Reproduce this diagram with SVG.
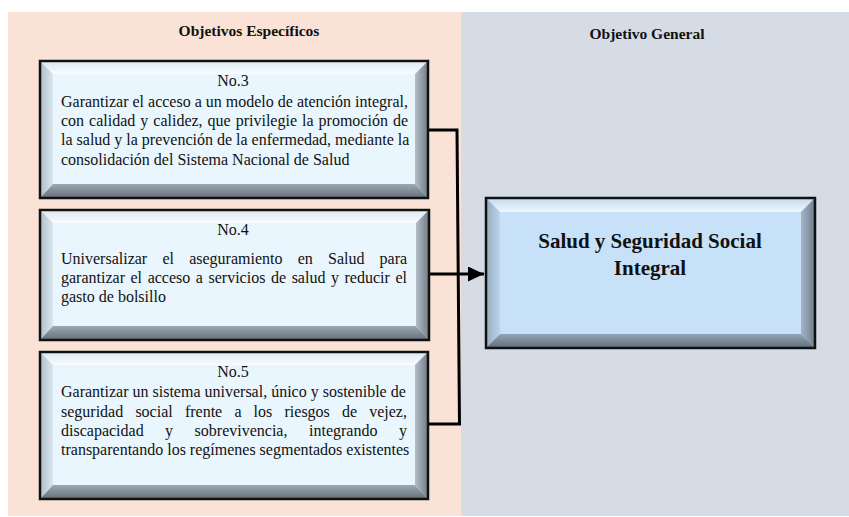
<svg xmlns="http://www.w3.org/2000/svg" width="849" height="517" viewBox="0 0 849 517">
<defs>
<style>
.hdr{font-family:"Liberation Serif","Times New Roman",serif;font-weight:bold;font-size:15.5px;fill:#111;text-anchor:middle}
.t{font-family:"Liberation Serif","Times New Roman",serif;font-size:16px;fill:#111}
.c{text-anchor:middle}
.big{font-family:"Liberation Serif","Times New Roman",serif;font-weight:bold;font-size:21px;fill:#111;text-anchor:middle}
.border{fill:none;stroke:#111;stroke-width:2.5}
.conn{fill:none;stroke:#000;stroke-width:3}
</style>
<linearGradient id="gTop" x1="0" y1="0" x2="0" y2="1"><stop offset="0" stop-color="#dde9f2"/><stop offset="1" stop-color="#f7fcff"/></linearGradient>
<linearGradient id="gLeft" x1="0" y1="0" x2="1" y2="0"><stop offset="0" stop-color="#aebdc9"/><stop offset="1" stop-color="#dbe8f1"/></linearGradient>
<linearGradient id="gRight" x1="0" y1="0" x2="1" y2="0"><stop offset="0" stop-color="#b4bec8"/><stop offset="1" stop-color="#717c87"/></linearGradient>
<linearGradient id="gBot" x1="0" y1="0" x2="0" y2="1"><stop offset="0" stop-color="#9ea8b2"/><stop offset="1" stop-color="#646f7a"/></linearGradient>
<linearGradient id="bTop" x1="0" y1="0" x2="0" y2="1"><stop offset="0" stop-color="#c4d9ea"/><stop offset="1" stop-color="#eef7ff"/></linearGradient>
<linearGradient id="bLeft" x1="0" y1="0" x2="1" y2="0"><stop offset="0" stop-color="#94abc0"/><stop offset="1" stop-color="#bcd4ea"/></linearGradient>
<linearGradient id="bRight" x1="0" y1="0" x2="1" y2="0"><stop offset="0" stop-color="#a4b6c6"/><stop offset="1" stop-color="#6d7d8c"/></linearGradient>
<linearGradient id="bBot" x1="0" y1="0" x2="0" y2="1"><stop offset="0" stop-color="#94a5b5"/><stop offset="1" stop-color="#5f6e7c"/></linearGradient>
<marker id="arr" markerUnits="userSpaceOnUse" markerWidth="16" markerHeight="15" refX="16" refY="7.5" orient="auto"><path d="M0,0 L16,7.5 L0,15 z" fill="#000"/></marker>
</defs>

<rect x="8" y="12" width="453" height="504" fill="#fae3d6"/>
<rect x="461" y="12" width="388" height="504" fill="#d5dce5"/>
<text class="hdr" x="249" y="36">Objetivos Específicos</text>
<text class="hdr" x="647" y="39">Objetivo General</text>

<g id="connectors">
<path class="conn" d="M429,130 H457 L459.5,424 H428"/>
<path class="conn" d="M430,274 H484" marker-end="url(#arr)"/>
</g>

<g id="node-no3">
<rect x="40" y="61" width="388" height="137" fill="#eaf6fd"/>
<polygon points="40,61 428,61 415,74 53,74" fill="url(#gTop)"/>
<polygon points="40,61 53,74 53,184 40,198" fill="url(#gLeft)"/>
<polygon points="428,61 428,198 415,184 415,74" fill="url(#gRight)"/>
<polygon points="40,198 53,184 415,184 428,198" fill="url(#gBot)"/>
<rect class="border" x="40" y="61" width="388" height="137"/>
<text class="t c" x="233" y="86">No.3</text>
<text class="t" x="61" y="106.7">Garantizar el acceso a un modelo de atención integral,</text>
<text class="t" x="61" y="126" word-spacing="1">con calidad y calidez, que privilegie la promoción de</text>
<text class="t" x="61" y="145.3">la salud y la prevención de la enfermedad, mediante la</text>
<text class="t" x="61" y="164.5">consolidación del Sistema Nacional de Salud</text>
</g>

<g id="node-no4">
<rect x="40" y="210" width="389" height="130" fill="#eaf6fd"/>
<polygon points="40,210 429,210 416,223 53,223" fill="url(#gTop)"/>
<polygon points="40,210 53,223 53,326 40,340" fill="url(#gLeft)"/>
<polygon points="429,210 429,340 416,326 416,223" fill="url(#gRight)"/>
<polygon points="40,340 53,326 416,326 429,340" fill="url(#gBot)"/>
<rect class="border" x="40" y="210" width="389" height="130"/>
<text class="t c" x="233" y="235">No.4</text>
<text class="t" y="263.5"><tspan x="61">Universalizar</tspan> <tspan x="162.4">el</tspan> <tspan x="189.2">aseguramiento</tspan> <tspan x="297.7">en</tspan> <tspan x="328">Salud</tspan> <tspan x="379.6">para</tspan></text>
<text class="t" x="61" y="282.5" word-spacing="1.57">garantizar el acceso a servicios de salud y reducir el</text>
<text class="t" x="61" y="301.5">gasto de bolsillo</text>
</g>

<g id="node-no5">
<rect x="40" y="352" width="388" height="147" fill="#eaf6fd"/>
<polygon points="40,352 428,352 415,365 53,365" fill="url(#gTop)"/>
<polygon points="40,352 53,365 53,485 40,499" fill="url(#gLeft)"/>
<polygon points="428,352 428,499 415,485 415,365" fill="url(#gRight)"/>
<polygon points="40,499 53,485 415,485 428,499" fill="url(#gBot)"/>
<rect class="border" x="40" y="352" width="388" height="147"/>
<text class="t c" x="233" y="377.3">No.5</text>
<text class="t" x="61" y="397.3">Garantizar un sistema universal, único y sostenible de</text>
<text class="t" y="416.7"><tspan x="61">seguridad</tspan> <tspan x="135.4">social</tspan> <tspan x="184.9">frente</tspan> <tspan x="234.4">a</tspan> <tspan x="253.6">los</tspan> <tspan x="284.5">riesgos</tspan> <tspan x="342">de</tspan> <tspan x="369.2">vejez,</tspan></text>
<text class="t" y="436"><tspan x="61">discapacidad</tspan> <tspan x="165.1">y</tspan> <tspan x="194.6">sobrevivencia,</tspan> <tspan x="309">integrando</tspan> <tspan x="398.9">y</tspan></text>
<text class="t" x="61" y="455.3">transparentando los regímenes segmentados existentes</text>
</g>

<g id="node-general">
<rect x="486" y="198" width="329" height="150" fill="#c7e1f8"/>
<polygon points="486,198 815,198 801,212 500,212" fill="url(#bTop)"/>
<polygon points="486,198 500,212 500,334 486,348" fill="url(#bLeft)"/>
<polygon points="815,198 815,348 801,334 801,212" fill="url(#bRight)"/>
<polygon points="486,348 500,334 801,334 815,348" fill="url(#bBot)"/>
<rect class="border" x="486" y="198" width="329" height="150"/>
<text class="big" x="650" y="248">Salud y Seguridad Social</text>
<text class="big" x="650" y="275">Integral</text>
</g>
</svg>
